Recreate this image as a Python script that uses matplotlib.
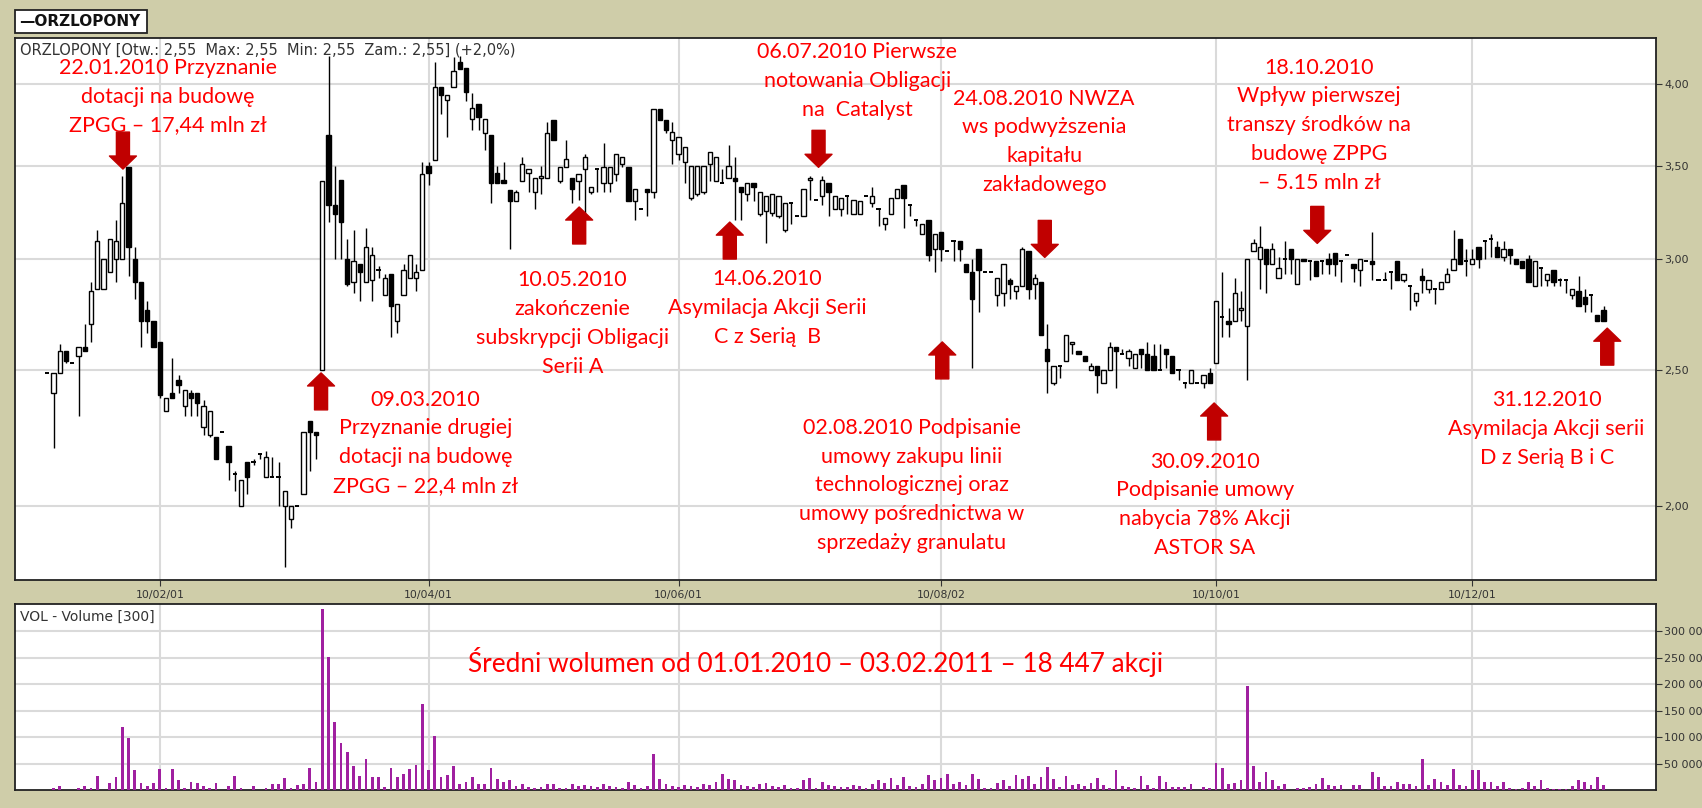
import numpy as np
import matplotlib
matplotlib.use("Agg")
import matplotlib.pyplot as plt
from matplotlib.patches import Rectangle

# daily OHLC, ORZLOPONY 2010 (one entry per session)
opn = [2.49,2.41,2.49,2.58,2.53,2.56,2.60,2.70,2.86,2.86,
       2.94,3.00,3.00,3.49,3.00,2.89,2.76,2.71,2.62,2.34,
       2.41,2.46,2.36,2.41,2.41,2.28,2.25,2.24,2.26,2.21,
       2.11,2.00,2.15,2.15,2.18,2.10,2.10,2.10,2.00,1.96,
       2.00,2.04,2.30,2.26,2.50,3.68,3.28,3.42,3.00,2.89,
       2.98,2.89,2.90,2.95,2.83,2.93,2.71,2.83,2.91,2.91,
       2.95,3.50,3.53,3.98,3.90,3.98,4.15,4.11,3.78,3.87,
       3.69,3.68,3.46,3.42,3.36,3.30,3.41,3.46,3.35,3.43,
       3.43,3.77,3.41,3.49,3.43,3.41,3.48,3.35,3.48,3.40,
       3.40,3.45,3.51,3.49,3.30,3.26,3.37,3.35,3.84,3.77,
       3.65,3.57,3.52,3.32,3.34,3.35,3.51,3.41,3.40,3.43,
       3.43,3.38,3.34,3.40,3.23,3.25,3.24,3.22,3.15,3.29,
       3.22,3.22,3.42,3.31,3.33,3.40,3.26,3.26,3.33,3.23,
       3.23,3.33,3.29,3.26,3.18,3.23,3.32,3.39,3.28,3.20,
       3.13,3.20,3.05,3.14,3.04,3.09,3.09,2.98,2.94,3.05,
       2.94,2.94,2.83,2.84,2.90,2.85,2.87,3.04,2.88,2.89,
       2.59,2.45,2.52,2.54,2.61,2.58,2.56,2.50,2.52,2.45,
       2.50,2.60,2.57,2.55,2.51,2.59,2.57,2.56,2.50,2.59,
       2.56,2.50,2.45,2.45,2.45,2.45,2.49,2.53,2.73,2.71,
       2.71,2.76,2.69,3.04,3.00,3.05,2.98,2.91,3.00,3.05,
       2.88,3.00,2.99,2.99,2.99,3.00,3.03,2.99,3.02,2.98,
       2.95,2.99,2.99,2.90,2.90,2.94,2.99,2.90,2.87,2.80,
       2.92,2.86,2.86,2.86,2.89,2.95,3.10,2.99,2.98,3.06,
       3.09,3.10,3.06,3.01,3.05,3.00,2.99,3.00,2.87,2.96,
       2.90,2.95,2.90,2.90,2.83,2.85,2.82,2.83,2.74,2.76]
high = [2.49,2.49,2.61,2.58,2.53,2.60,2.70,2.89,3.15,3.00,
        3.10,3.20,3.44,3.49,3.06,2.89,2.80,2.71,2.62,2.39,
        2.55,2.48,2.42,2.42,2.41,2.38,2.34,2.24,2.26,2.21,
        2.12,2.09,2.15,2.16,2.18,2.19,2.17,2.15,2.05,2.00,
        2.00,2.26,2.30,2.26,3.41,4.19,3.50,3.42,3.10,3.15,
        2.98,3.16,3.06,2.97,2.93,2.93,2.79,2.98,3.02,2.98,
        3.52,3.52,4.15,3.98,3.93,4.18,4.19,4.11,3.94,3.87,
        3.78,3.68,3.50,3.52,3.36,3.36,3.55,3.48,3.43,3.50,
        3.76,3.77,3.49,3.65,3.43,3.45,3.57,3.38,3.48,3.63,
        3.49,3.57,3.55,3.49,3.37,3.26,3.37,3.84,3.84,3.77,
        3.76,3.67,3.61,3.50,3.50,3.50,3.58,3.55,3.48,3.62,
        3.55,3.38,3.40,3.40,3.35,3.33,3.34,3.33,3.29,3.29,
        3.22,3.37,3.44,3.31,3.44,3.40,3.33,3.32,3.33,3.31,
        3.30,3.33,3.38,3.26,3.21,3.32,3.37,3.39,3.28,3.20,
        3.18,3.20,3.13,3.14,3.04,3.09,3.09,2.98,3.00,3.05,
        2.94,2.94,2.91,2.98,2.91,2.87,3.06,3.04,2.93,2.89,
        2.70,2.52,2.52,2.65,2.62,2.58,2.56,2.53,2.52,2.50,
        2.62,2.60,2.59,2.59,2.57,2.59,2.62,2.61,2.61,2.59,
        2.56,2.50,2.45,2.50,2.45,2.48,2.51,2.80,2.94,2.77,
        2.91,2.85,3.00,3.10,3.17,3.05,3.08,3.01,3.09,3.05,
        3.00,3.00,2.99,2.99,2.99,3.03,3.03,2.99,3.02,2.98,
        3.00,2.99,3.14,2.90,2.94,2.94,2.99,2.93,2.87,2.84,
        2.96,2.90,2.86,2.89,2.96,3.15,3.10,3.05,3.05,3.06,
        3.09,3.13,3.09,3.09,3.05,3.00,2.99,3.02,2.99,2.96,
        2.93,2.95,2.91,2.90,2.86,2.92,2.86,2.83,2.74,2.78]
low = [2.49,2.20,2.49,2.53,2.53,2.32,2.58,2.62,2.86,2.86,
       2.94,2.89,3.00,2.92,2.81,2.60,2.66,2.60,2.39,2.34,
       2.39,2.41,2.32,2.32,2.32,2.25,2.24,2.16,2.26,2.09,
       2.05,2.00,2.04,2.14,2.16,2.10,2.10,2.00,1.81,1.93,
       2.00,2.04,2.12,2.16,2.50,3.19,3.00,3.00,2.87,2.84,
       2.80,2.89,2.80,2.91,2.83,2.64,2.66,2.83,2.91,2.85,
       2.95,3.39,3.53,3.81,3.67,3.98,4.10,3.89,3.71,3.71,
       3.59,3.29,3.40,3.40,3.05,3.30,3.41,3.35,3.26,3.34,
       3.43,3.65,3.40,3.49,3.29,3.31,3.24,3.34,3.35,3.35,
       3.35,3.41,3.49,3.30,3.20,3.26,3.22,3.32,3.77,3.69,
       3.51,3.53,3.40,3.31,3.33,3.34,3.41,3.41,3.40,3.43,
       3.20,3.20,3.30,3.30,3.22,3.08,3.22,3.21,3.14,3.18,
       3.22,3.22,3.31,3.31,3.28,3.22,3.26,3.22,3.23,3.23,
       3.23,3.33,3.27,3.17,3.15,3.23,3.32,3.16,3.22,3.17,
       3.13,2.99,2.94,2.99,3.04,2.99,2.99,2.94,2.51,2.75,
       2.94,2.94,2.78,2.78,2.81,2.81,2.87,2.81,2.81,2.65,
       2.41,2.44,2.47,2.54,2.57,2.57,2.54,2.50,2.41,2.45,
       2.50,2.43,2.57,2.52,2.51,2.51,2.50,2.50,2.50,2.51,
       2.49,2.46,2.43,2.45,2.45,2.43,2.45,2.53,2.64,2.64,
       2.71,2.71,2.46,3.04,2.86,2.84,2.98,2.91,2.93,2.93,
       2.88,2.99,2.90,2.92,2.93,2.93,2.92,2.89,3.02,2.89,
       2.87,2.99,2.90,2.90,2.90,2.86,2.90,2.89,2.76,2.78,
       2.84,2.84,2.79,2.86,2.89,2.95,2.98,2.92,2.98,2.96,
       3.00,3.01,3.01,2.99,2.98,2.98,2.96,2.89,2.87,2.87,
       2.87,2.87,2.87,2.84,2.81,2.78,2.75,2.75,2.71,2.71]
close = [2.49,2.49,2.58,2.54,2.53,2.60,2.58,2.85,3.09,3.00,
         3.10,3.09,3.29,3.06,2.89,2.71,2.71,2.60,2.40,2.39,
         2.39,2.44,2.42,2.39,2.37,2.36,2.34,2.16,2.26,2.15,
         2.11,2.09,2.10,2.15,2.18,2.17,2.10,2.10,2.05,2.00,
         2.00,2.26,2.26,2.25,3.41,3.28,3.23,3.19,2.88,2.99,
         2.94,3.06,3.02,2.95,2.91,2.78,2.79,2.95,3.02,2.94,
         3.45,3.46,3.98,3.93,3.93,4.09,4.10,3.95,3.85,3.79,
         3.78,3.40,3.40,3.40,3.30,3.35,3.51,3.48,3.43,3.44,
         3.69,3.65,3.49,3.54,3.37,3.45,3.55,3.38,3.48,3.49,
         3.49,3.57,3.55,3.30,3.37,3.26,3.35,3.84,3.77,3.71,
         3.70,3.67,3.61,3.50,3.50,3.50,3.58,3.55,3.40,3.50,
         3.41,3.35,3.40,3.38,3.35,3.33,3.34,3.33,3.29,3.29,
         3.22,3.37,3.43,3.31,3.42,3.35,3.33,3.32,3.33,3.31,
         3.30,3.33,3.33,3.26,3.21,3.32,3.37,3.32,3.28,3.20,
         3.18,3.02,3.13,3.05,3.04,3.09,3.05,2.94,2.81,2.95,
         2.94,2.94,2.91,2.98,2.88,2.87,3.05,2.86,2.91,2.65,
         2.54,2.52,2.52,2.65,2.62,2.57,2.54,2.52,2.48,2.50,
         2.60,2.58,2.57,2.58,2.57,2.57,2.50,2.50,2.50,2.57,
         2.49,2.50,2.45,2.50,2.45,2.48,2.45,2.80,2.73,2.70,
         2.84,2.77,3.00,3.08,3.06,2.98,3.05,2.96,3.00,3.00,
         3.00,2.99,2.99,2.92,2.99,2.98,2.98,2.99,3.02,2.96,
         3.00,2.99,2.98,2.90,2.90,2.94,2.90,2.93,2.87,2.84,
         2.90,2.90,2.86,2.89,2.93,3.00,2.98,2.99,3.00,3.00,
         3.09,3.10,3.01,3.05,3.02,2.98,2.96,2.89,2.99,2.96,
         2.93,2.89,2.90,2.90,2.86,2.78,2.79,2.83,2.71,2.71]
# volume in thousands of shares
vol_k = [0,4,7,0,0,4,7,4,27,0,
         13,25,119,98,37,13,7,13,40,4,
         40,18,4,16,13,7,4,13,0,7,
         27,4,0,8,0,4,12,12,22,4,
         10,12,42,16,342,251,128,89,71,45,
         27,58,25,25,6,42,25,30,40,48,
         163,37,103,25,29,45,12,16,24,12,
         12,42,21,16,18,7,12,6,4,6,
         12,12,4,4,12,7,10,7,5,12,
         8,6,4,15,10,3,8,68,20,12,
         8,6,10,8,5,12,9,15,30,20,
         18,10,8,6,12,14,8,5,9,4,
         3,18,22,4,15,10,8,6,5,10,
         7,3,12,18,14,22,10,25,8,6,
         12,28,18,22,30,12,15,10,30,20,
         4,3,14,18,8,28,20,26,12,25,
         43,20,6,26,10,12,8,14,22,10,
         4,37,7,5,4,27,10,4,27,16,
         6,6,6,12,0,6,4,51,42,12,
         13,18,196,45,15,34,18,7,12,0,
         4,4,6,12,23,10,7,9,0,9,
         9,0,34,25,7,7,15,12,12,7,
         58,9,21,16,9,40,9,7,37,37,
         16,16,7,16,4,2,4,16,7,18,
         4,2,2,2,7,18,16,10,25,9]

month_idx = [18, 61, 101, 143, 187, 228]
month_lbl = ["10/02/01", "10/04/01", "10/06/01", "10/08/02", "10/10/01", "10/12/01"]
price_ticks = [2.0, 2.5, 3.0, 3.5, 4.0]
vol_ticks = [50, 100, 150, 200, 250, 300]

notes = [
    "22.01.2010 Przyznanie\ndotacji na budowę\nZPGG – 17,44 mln zł",
    "09.03.2010\nPrzyznanie drugiej\ndotacji na budowę\nZPGG – 22,4 mln zł",
    "10.05.2010\nzakończenie\nsubskrypcji Obligacji\nSerii A",
    "06.07.2010 Pierwsze\nnotowania Obligacji\nna  Catalyst",
    "14.06.2010\nAsymilacja Akcji Serii\nC z Serią  B",
    "24.08.2010 NWZA\nws podwyższenia\nkapitału\nzakładowego",
    "02.08.2010 Podpisanie\numowy zakupu linii\ntechnologicznej oraz\numowy pośrednictwa w\nsprzedaży granulatu",
    "30.09.2010\nPodpisanie umowy\nnabycia 78% Akcji\nASTOR SA",
    "18.10.2010\nWpływ pierwszej\ntranszy środków na\nbudowę ZPPG\n– 5.15 mln zł",
    "31.12.2010\nAsymilacja Akcji serii\nD z Serią B i C",
]
avg_note = "Średni wolumen od 01.01.2010 – 03.02.2011 – 18 447 akcji"

# layout: note centre (session index, price), arrow tip (session index, price, direction)
note_pos = [(19.3, 3.92), (60.5, 2.22), (84.0, 2.70), (129.6, 4.02), (115.2, 2.77),
            (159.5, 3.64), (138.3, 2.07), (185.2, 2.005), (203.5, 3.74), (239.9, 2.27)]
arrow_pos = [(12.1, 3.48, -1), (43.8, 2.49, 1), (85.1, 3.27, 1), (123.4, 3.49, -1),
             (109.2, 3.19, 1), (159.6, 3.01, -1), (143.2, 2.62, 1), (186.7, 2.37, 1),
             (203.2, 3.08, -1), (249.6, 2.68, 1)]

W, H = 1702, 808
BG = "#CFCDA9"
GRID = "#DADADA"
RED = "#FF0000"
DARKRED = "#C00000"
plt.rcParams["font.family"] = ["DejaVu Sans"]

fig = plt.figure(figsize=(W / 100, H / 100), dpi=100)
fig.patch.set_facecolor(BG)

ax1 = fig.add_axes([15 / W, 1 - 580 / H, 1641 / W, 542 / H])
ax2 = fig.add_axes([15 / W, 1 - 790 / H, 1641 / W, 186 / H])

o = np.array(opn); h = np.array(high); l = np.array(low); c = np.array(close)
x = np.arange(len(o))

# ---- price panel
ax1.set_yscale("log")
ax1.vlines(x, l, h, color="black", lw=1.0, zorder=3)
up = c > o
dn = c < o
dj = c == o
bw = 0.68
ax1.bar(x[up], (c - o)[up], bottom=o[up], width=bw, color="white", edgecolor="black", lw=1.0, zorder=4)
ax1.bar(x[dn], (o - c)[dn], bottom=c[dn], width=bw, color="black", edgecolor="black", lw=1.0, zorder=4)
ax1.hlines(c[dj], x[dj] - bw / 2, x[dj] + bw / 2, color="black", lw=1.4, zorder=4)

ax1.set_xlim(-5.17, 257.4)
ax1.set_ylim(1.772, 4.316)
ax1.set_yticks(price_ticks)
ax1.set_yticklabels([f"{v:.2f}".replace(".", ",") for v in price_ticks])
ax1.yaxis.set_minor_locator(matplotlib.ticker.NullLocator())
ax1.yaxis.tick_right()
ax1.set_xticks(month_idx)
ax1.set_xticklabels(month_lbl)
ax1.tick_params(axis="y", direction="out", length=4, labelsize=8, colors="#333333", pad=2)
ax1.tick_params(axis="x", direction="out", length=4, labelsize=7.8, colors="#333333", pad=3)
ax1.grid(True, color=GRID, lw=1.5, zorder=0)
ax1.set_axisbelow(True)
for s in ax1.spines.values():
    s.set_color("#222222"); s.set_linewidth(1.3)

ax1.text(0.003, 0.992, "ORZLOPONY [Otw.: 2,55  Max: 2,55  Min: 2,55  Zam.: 2,55] (+2,0%)",
         transform=ax1.transAxes, va="top", ha="left", fontsize=10.5, color="#333333", zorder=6)

for txt, (nx, ny) in zip(notes, note_pos):
    ax1.text(nx, ny, txt, ha="center", va="center", multialignment="center",
             fontsize=15.5, color=RED, family=["Lato", "DejaVu Sans"], linespacing=1.55, zorder=7)
for ax_i, ay, d in arrow_pos:
    ax1.annotate("", xy=(ax_i, ay), xytext=(0, -37 * d), textcoords="offset pixels",
                 arrowprops=dict(arrowstyle="simple,head_length=0.47,head_width=0.97,tail_width=0.47",
                                 mutation_scale=20, color=DARKRED, shrinkA=0, shrinkB=0), zorder=8)

# ---- volume panel
ax2.bar(x, vol_k, width=0.45, color="#A020A0", zorder=3)
ax2.set_xlim(-5.17, 257.4)
ax2.set_ylim(0, 352)
ax2.set_yticks(vol_ticks)
ax2.set_yticklabels([f"{v} 000" for v in vol_ticks])
ax2.yaxis.tick_right()
ax2.set_xticks(month_idx)
ax2.tick_params(axis="x", length=0, labelbottom=False)
ax2.tick_params(axis="y", direction="out", length=4, labelsize=8, colors="#333333", pad=2)
ax2.grid(True, color=GRID, lw=1.5, zorder=0)
ax2.set_axisbelow(True)
for s in ax2.spines.values():
    s.set_color("#222222"); s.set_linewidth(1.3)
ax2.text(0.003, 0.97, "VOL - Volume [300]", transform=ax2.transAxes, va="top", ha="left",
         fontsize=10, color="#333333")
ax2.text(123, 242, avg_note, ha="center", va="center", fontsize=18.8, color=RED,
         family=["Lato", "DejaVu Sans"], zorder=6)

# ---- legend tab
fig.add_artist(Rectangle((15 / W, 1 - 33 / H), 132 / W, 23 / H, transform=fig.transFigure,
                         facecolor="white", edgecolor="#222222", lw=1.3))
fig.text(19 / W, 1 - 21.5 / H, "—ORZLOPONY", ha="left", va="center", fontsize=11,
         fontweight="bold", color="#111111")

fig.savefig("out.png", dpi=100, facecolor=BG)
